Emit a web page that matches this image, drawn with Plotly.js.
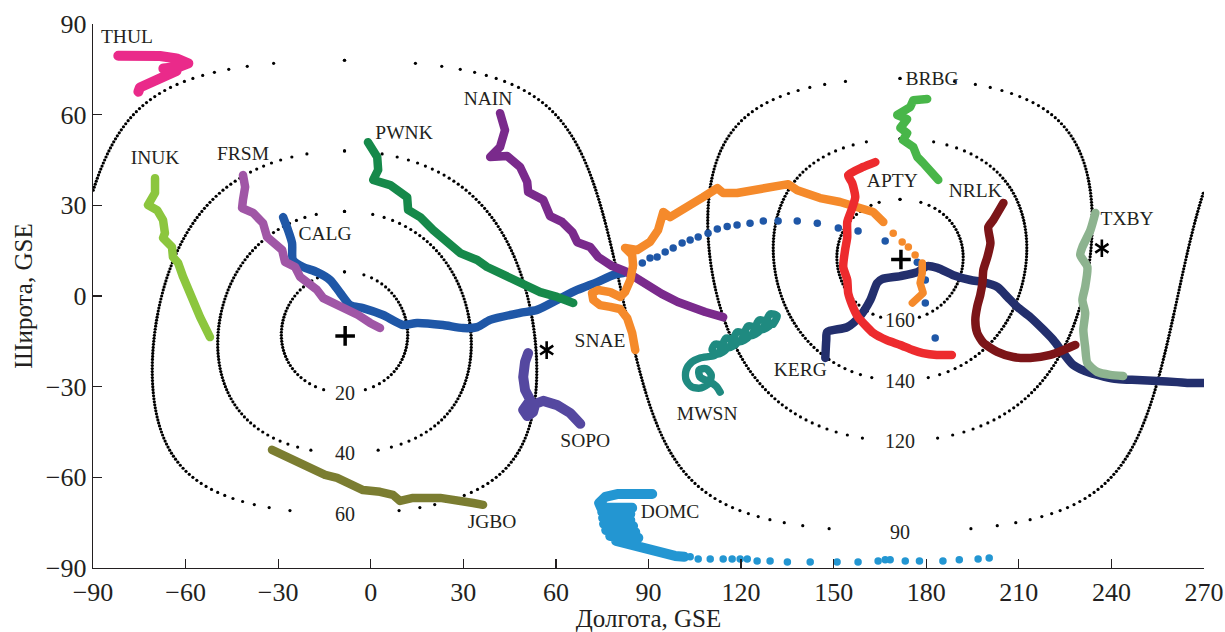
<!DOCTYPE html>
<html><head><meta charset="utf-8">
<script src="https://cdn.plot.ly/plotly-3.0.1.min.js"></script>
<style>
html,body{margin:0;padding:0;background:#fff;}
#chart{width:1225px;height:632px;}
.js-line{stroke-linecap:round !important;stroke-linejoin:round !important;}
</style></head><body><div id="chart"></div>
<script>
// ---------- reference rings: angular distance (deg) from a pole ----------
const RING_LEVELS = [20, 40, 60, 90, 120, 140, 160];
const RING_POLE_LON = -8.5;
const RING_POLE_LAT = -12;
const RING_LAT_STEP = 1;
const RING_LABEL_TEXT = ['20', '40', '60', '90', '120', '140', '160'];
const RING_LABEL_LON = [-8.5, -8.5, -8.5, 171.5, 171.5, 171.5, 171.5];
const RING_LABEL_LAT = [-32, -52, -72, -78, -48, -28, -8];

// ---------- markers ----------
const PLUS_LON = [-8.3, 171.8];
const PLUS_LAT = [-13.2, 12.1];
const STAR_LON = [57.0, 236.9];
const STAR_LAT = [-17.9, 15.8];

// ---------- station tracks (GSE longitude / latitude) ----------
const THUL_LON = [-81.8,-74.8,-68.3,-62.9,-59.1,-61.8,-67.2,-62.9,-66.1,-69.4,-72.1,-74.8,-75.3];
const THUL_LAT = [79.5,79.7,79.4,78.6,77.0,75.9,75.3,74.5,73.1,71.7,70.4,69.0,67.6];

const INUK_LON = [-69.9,-69.9,-72.2,-69.2,-67.3,-66.7,-67.3,-64.4,-64.1,-62.4,-60.8,-59.5,-57.9,-56.3,-55.3,-53.7,-52.1];
const INUK_LAT = [39.0,34.1,30.1,28.4,25.1,20.8,19.2,16.2,12.9,10.9,6.3,3.0,-1.3,-5.6,-7.0,-10.3,-13.6];

const FRSM_LON = [-41.4,-40.7,-41.4,-41.7,-38.1,-34.9,-33.6,-31.6,-28.7,-27.8,-24.5,-22.9,-20.6,-17.4,-15.4,-12.2,-7.7,-4.1,-0.2,3.0];
const FRSM_LAT = [40.0,36.1,31.8,29.1,27.5,24.1,19.5,17.5,15.2,11.3,9.6,6.3,4.3,2.0,-0.7,-2.3,-4.0,-6.3,-8.9,-10.6];

const CALG_LON = [-28.4,-26.8,-25.5,-25.2,-21.9,-17.4,-13.2,-9.9,-6.7,-2.5,4.0,10.5,15.0,23.4,29.9,34.5,38.7,48.4,53.9,60.4,66.9,73.4,78.5,81.8];
const CALG_LAT = [26.1,21.8,17.5,11.9,9.6,7.9,5.3,1.0,-3.0,-4.0,-6.3,-9.6,-8.9,-9.6,-10.6,-10.3,-7.9,-5.6,-4.6,-1.3,2.0,4.6,6.9,7.6];
const CALG_TAIL_LON = [85.0,88.0,90.5,92.8,95.4,98.0,100.9,103.5,106.1,109.3,112.3,115.5,118.7,122.9,127.2,132.0,138.2,144.7,151.5,157.9,166.7,177.1,179.7,179.7,182.9];
const CALG_TAIL_LAT = [9.6,10.9,12.6,12.9,14.6,15.9,17.5,18.5,19.5,20.8,22.2,23.0,23.5,24.1,24.8,24.8,24.8,24.1,22.5,21.5,18.2,11.2,5.3,-2.3,-13.9];

const PWNK_LON = [-0.9,2.1,2.4,0.8,6.3,11.8,12.1,16.0,20.2,22.5,26.7,29.0,34.5,37.7,41.9,45.2,50.7,54.9,60.4,65.6];
const PWNK_LAT = [50.9,46.0,41.7,38.4,36.7,32.7,28.5,26.1,21.8,19.5,16.2,14.2,11.9,9.6,7.6,5.3,3.0,1.3,-0.3,-2.3];

const NAIN_LON = [41.9,43.5,41.9,38.7,44.2,48.4,50.7,51.0,55.9,58.1,62.0,65.3,66.9,71.1,73.7,78.2,82.3,86.2,89.8,94.3,99.5,103.4,108.4,114.2];
const NAIN_LAT = [60.5,54.9,49.3,46.0,46.3,42.7,37.7,34.4,31.8,26.4,24.5,21.2,17.8,16.2,12.9,9.9,8.3,5.6,3.0,0.7,-2.0,-3.6,-5.3,-7.0];

const SNAE_LON = [85.7,84.7,83.1,80.8,77.6,74.3,72.1,71.7,73.7,77.6,80.8,82.4,84.1,85.0,84.7,82.4,86.3,90.5,93.1,94.8,94.8,97.0,102.5,107.7,112.3,114.2,118.7,123.9,129.4,135.3,138.2,142.4,145.6,152.1,157.6,162.8,166.1];
const SNAE_LAT = [-17.9,-12.2,-7.3,-4.3,-3.6,-3.0,-1.3,1.0,2.0,1.3,-0.3,1.3,5.3,10.2,13.6,15.9,15.2,17.9,21.8,26.1,27.8,26.1,29.1,32.7,35.7,34.1,34.1,35.0,36.4,37.0,35.0,33.4,32.4,31.1,29.4,27.8,24.5];
const SNAE_TAIL_LON = [169.3,172.2,174.2,176.4];
const SNAE_TAIL_LAT = [20.8,17.9,16.2,13.6];
const SNAE_END_LON = [178.7,178.7,178.0,179.0,175.5];
const SNAE_END_LAT = [10.9,7.6,4.3,1.0,-2.3];

const SOPO_LON = [51.0,50.0,49.4,50.0,51.7,50.7,49.4,50.7,52.6,53.3,55.9,60.4,64.6,67.9];
const SOPO_LAT = [-18.9,-21.8,-26.8,-31.1,-34.4,-36.4,-37.7,-39.7,-38.4,-35.7,-34.7,-36.1,-38.7,-42.3];

const JGBO_LON = [-32.0,-27.1,-22.9,-18.7,-14.8,-10.9,-7.6,-2.5,3.0,7.2,9.5,13.7,22.5,29.0,33.2,36.4];
const JGBO_LAT = [-50.9,-53.2,-55.2,-57.5,-59.2,-60.2,-61.8,-64.2,-64.8,-65.8,-67.8,-66.8,-66.8,-67.5,-68.5,-69.1];

const DOMC_LON = [91.2,85.7,80.2,76.0,74.0,74.7,84.7,75.0,84.1,75.3,84.1,75.6,85.0,76.3,85.7,77.6,86.7,79.5,84.1,88.9,93.8,98.6,101.6];
const DOMC_LAT = [-65.5,-65.2,-65.5,-66.5,-68.5,-70.1,-70.1,-71.4,-72.1,-73.4,-74.1,-75.4,-76.1,-77.4,-78.1,-79.4,-80.0,-81.0,-82.4,-83.7,-85.0,-86.0,-86.3];
const DOMC_TAIL_LON = [103.5,106.1,110.0,114.2,117.1,119.7,122.0,125.2,129.4,135.0,142.4,151.1,157.9,164.4,166.7,168.3,173.2,177.8,185.4,190.7,196.8,200.4];
const DOMC_TAIL_LAT = [-86.3,-87.0,-87.0,-87.0,-87.0,-87.0,-87.0,-87.7,-87.7,-88.0,-88.0,-88.0,-88.0,-87.7,-87.3,-87.3,-87.7,-87.7,-87.7,-87.3,-87.0,-86.7];

const MWSN_LON = [130.4,131.7,129.4,128.5,129.4,126.8,128.1,125.9,124.9,125.9,123.3,124.6,122.3,121.3,122.3,119.7,121.0,118.7,117.8,118.7,116.1,117.4,115.2,114.2,115.2,112.6,113.9,111.6,110.6,111.6,106.7,104.1,102.2,102.2,104.1,107.1,109.6,110.3,108.7,106.4,106.7,110.0,111.9,113.2];
const MWSN_LAT = [-9.3,-6.6,-5.9,-7.9,-9.6,-11.2,-8.6,-7.9,-9.9,-11.6,-13.2,-10.6,-9.9,-11.9,-13.6,-15.2,-12.6,-11.9,-13.9,-15.5,-17.2,-14.6,-13.9,-15.9,-17.5,-19.2,-16.5,-15.9,-17.9,-19.5,-20.5,-21.8,-24.5,-27.8,-30.1,-30.4,-28.8,-26.1,-24.1,-24.5,-26.8,-28.5,-29.8,-31.8];

const KERG_LON = [147.3,147.6,147.9,154.4,158.6,161.9,164.1,165.7,171.6,177.1,180.3,183.6,188.8,194.3,198.5,203.0,206.3,209.5,213.7,218.0,221.2,224.4,227.6,233.2,241.9,248.4,254.9,261.3,265.6,269.8];
const KERG_LAT = [-20.5,-14.6,-11.9,-10.3,-6.6,-1.3,4.3,5.6,6.6,7.9,9.9,9.3,6.9,5.3,4.6,3.0,-0.3,-3.6,-7.0,-11.2,-14.6,-18.9,-22.8,-25.5,-27.5,-27.8,-28.1,-28.5,-28.8,-28.8];

const APTY_LON = [163.5,159.6,154.7,156.0,157.0,156.0,154.4,154.4,153.7,153.1,154.4,154.7,156.0,157.9,160.2,162.8,167.2,171.6,175.6,178.9,183.4,188.3];
const APTY_LAT = [44.3,42.7,40.0,37.4,32.7,29.1,24.5,19.5,15.2,9.6,5.3,1.0,-3.0,-7.0,-9.6,-12.2,-14.6,-16.2,-17.9,-18.9,-19.5,-19.5];

const NRLK_LON = [205.0,201.7,200.1,200.8,199.8,198.5,198.2,197.5,196.5,195.9,196.5,198.5,203.0,208.2,213.7,220.2,224.4,228.3];
const NRLK_LAT = [30.8,25.1,22.8,17.5,12.9,8.6,4.3,0.3,-3.6,-7.9,-12.2,-15.5,-18.5,-20.2,-20.5,-19.5,-17.9,-16.2];

const BRBG_LON = [180.3,175.8,174.8,170.6,173.8,171.6,173.8,172.5,175.8,177.1,179.0,181.3,183.9];
const BRBG_LAT = [65.2,64.8,62.5,59.9,58.5,55.6,53.9,51.6,49.3,46.0,44.0,41.7,38.4];

const TXBY_LON = [234.8,233.2,230.6,229.9,232.2,231.5,230.6,231.5,230.9,231.5,232.2,235.4,239.6,243.8];
const TXBY_LAT = [27.5,21.8,16.2,13.6,9.6,3.0,-1.3,-5.6,-11.2,-16.9,-22.2,-25.1,-26.1,-26.5];

// ---------- station labels ----------
const LABEL_TEXT = ['THUL','INUK','FRSM','PWNK','CALG','NAIN','SNAE','SOPO','MWSN','KERG','JGBO','DOMC','APTY','NRLK','BRBG','TXBY'];
const LABEL_LON = [-79.0,-69.9,-41.4,10.8,-14.8,38.0,74.3,69.5,109.0,139.2,39.3,97.0,169.0,195.9,181.9,245.1];
const LABEL_LAT = [85.3,45.3,46.6,53.6,20.2,64.8,-15.2,-48.3,-39.4,-24.8,-75.1,-71.8,37.7,34.4,71.5,25.1];

// ---------- axes ----------
const X_TICKS = [-90,-60,-30,0,30,60,90,120,150,180,210,240,270];
const Y_TICKS = [-90,-60,-30,0,30,60,90];

const FONT = '"Liberation Serif", "Times New Roman", serif';
const INK = '#231f20';

function ringPoints(d){
  const rad = Math.PI/180, xs = [], ys = [];
  const p0 = RING_POLE_LAT*rad;
  for (let lat = -89; lat <= 89; lat += RING_LAT_STEP){
    const p = lat*rad;
    let c = (Math.cos(d*rad) - Math.sin(p)*Math.sin(p0)) / (Math.cos(p)*Math.cos(p0));
    if (c > 1 + 1e-9 || c < -1 - 1e-9) continue;
    c = Math.max(-1, Math.min(1, c));
    const dl = Math.acos(c)/rad;
    for (const s of [-1, 1]){
      let l = RING_POLE_LON + s*dl;
      while (l < -90) l += 360;
      while (l >= 270) l -= 360;
      xs.push(l); ys.push(lat);
    }
  }
  return {xs, ys};
}

function track(x, y, color, width, smooth){
  const line = {color, width};
  if (smooth) { line.shape = 'spline'; line.smoothing = smooth; }
  return {type:'scatter', mode:'lines', x, y, line, hoverinfo:'skip', showlegend:false};
}
function dots(x, y, color, size){
  return {type:'scatter', mode:'markers', x, y, marker:{color, size, line:{width:0}}, hoverinfo:'skip', showlegend:false};
}

const traces = [];
RING_LEVELS.forEach(d => {
  const r = ringPoints(d);
  traces.push({type:'scatter', mode:'markers', x:r.xs, y:r.ys,
    marker:{color:'#000', size:3.2, line:{width:0}}, hoverinfo:'skip', showlegend:false});
});

const W = 8.5;
traces.push(dots(CALG_TAIL_LON, CALG_TAIL_LAT, '#1f57a7', 7.5));
traces.push(track(KERG_LON, KERG_LAT, '#232f6d', W, 0.7));
traces.push(track(CALG_LON, CALG_LAT, '#1f57a7', W, 0.7));
traces.push(track(FRSM_LON, FRSM_LAT, '#a056a6', W));
traces.push(track(INUK_LON, INUK_LAT, '#8cc63e', W));
traces.push(track(THUL_LON, THUL_LAT, '#ea2a8a', 10));
traces.push(track(PWNK_LON, PWNK_LAT, '#16894a', W));
traces.push(track(NAIN_LON, NAIN_LAT, '#7a2a8c', W));
traces.push(track(SNAE_LON, SNAE_LAT, '#f58a2b', W));
traces.push(dots(SNAE_TAIL_LON, SNAE_TAIL_LAT, '#f58a2b', 7.5));
traces.push(track(SNAE_END_LON, SNAE_END_LAT, '#f58a2b', 7.5));
traces.push(track(SOPO_LON, SOPO_LAT, '#5548a0', 10));
traces.push(track(JGBO_LON, JGBO_LAT, '#7b7d31', W));
traces.push(track(DOMC_LON, DOMC_LAT, '#2396d2', 10));
traces.push(dots(DOMC_TAIL_LON, DOMC_TAIL_LAT, '#2396d2', 7.5));
traces.push(track(MWSN_LON, MWSN_LAT, '#1f8a80', 7.5, 0.8));
traces.push(track(APTY_LON, APTY_LAT, '#ed2b2e', W, 0.6));
traces.push(track(NRLK_LON, NRLK_LAT, '#7c1518', W, 0.6));
traces.push(track(BRBG_LON, BRBG_LAT, '#48b649', W));
traces.push(track(TXBY_LON, TXBY_LAT, '#8db38f', W, 0.6));

traces.push({type:'scatter', mode:'markers', x:PLUS_LON, y:PLUS_LAT,
  marker:{symbol:'cross-thin', size:14, color:'#000', line:{color:'#000', width:3.5}}, hoverinfo:'skip', showlegend:false});
['y-up-open','y-down-open'].forEach(sym => traces.push({type:'scatter', mode:'markers', x:STAR_LON, y:STAR_LAT,
  marker:{symbol:sym, size:11, color:'#000', line:{color:'#000', width:2.6}}, hoverinfo:'skip', showlegend:false}));

traces.push({type:'scatter', mode:'text', x:LABEL_LON, y:LABEL_LAT, text:LABEL_TEXT,
  textposition:'middle center', textfont:{family:FONT, size:19.5, color:INK}, hoverinfo:'skip', showlegend:false});

const annotations = RING_LABEL_TEXT.map((t, i) => ({
  x:RING_LABEL_LON[i], y:RING_LABEL_LAT[i], xref:'x', yref:'y', text:t, showarrow:false,
  font:{family:FONT, size:20, color:INK}, bgcolor:'#ffffff', borderpad:0
}));

const axisCommon = {
  showgrid:false, zeroline:false, showline:true, linecolor:INK, linewidth:1.3,
  ticks:'inside', ticklen:9, tickwidth:1.2, tickcolor:INK, mirror:false,
  tickfont:{family:FONT, size:26, color:INK}
};

const layout = {
  width:1225, height:632,
  margin:{l:93, r:21, t:24, b:64},
  paper_bgcolor:'#fff', plot_bgcolor:'#fff',
  showlegend:false, hovermode:false,
  xaxis:Object.assign({}, axisCommon, {range:[-90,270], tickmode:'array', tickvals:X_TICKS, ticktext:X_TICKS.map(v => v < 0 ? '\u2212' + Math.abs(v) : String(v)),
    title:{text:'Долгота, GSE', font:{family:FONT, size:25, color:INK}, standoff:12}}),
  yaxis:Object.assign({}, axisCommon, {range:[-90,90], tickmode:'array', tickvals:Y_TICKS, ticktext:Y_TICKS.map(v => v < 0 ? '\u2212' + Math.abs(v) : String(v)),
    title:{text:'Широта, GSE', font:{family:FONT, size:25, color:INK}, standoff:6}}),
  annotations
};

Plotly.newPlot('chart', traces, layout, {displayModeBar:false, staticPlot:true});
</script></body></html>
